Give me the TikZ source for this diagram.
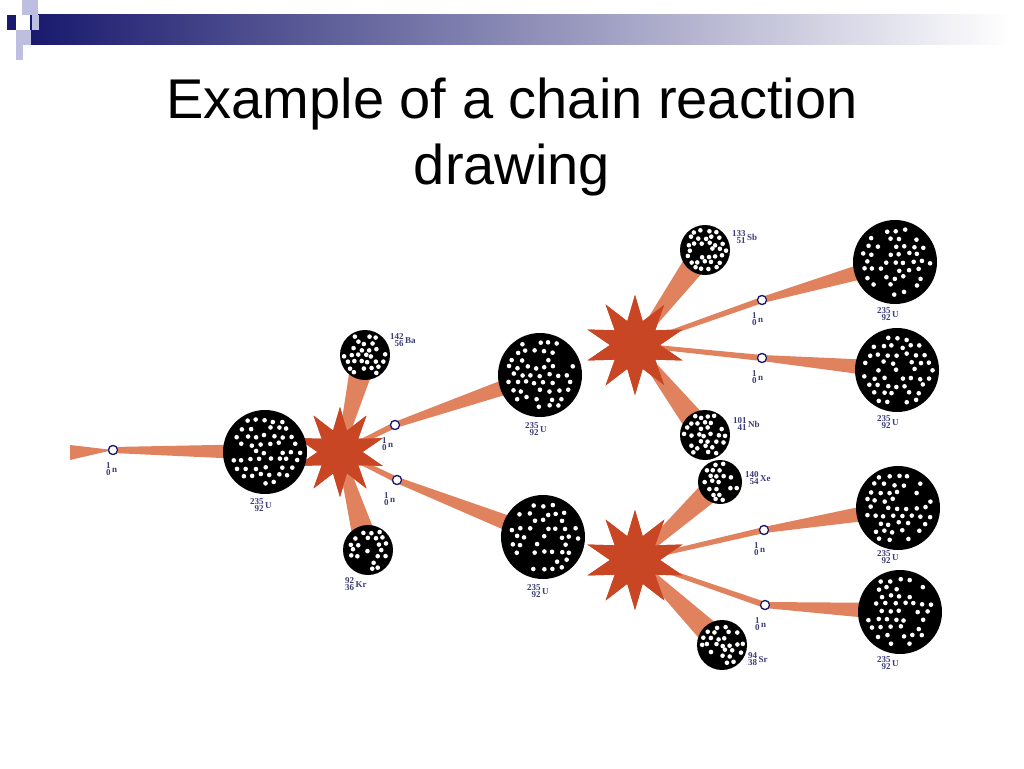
\documentclass[tikz,border=0pt]{standalone}
\usepackage{fontspec}
\setmainfont{Liberation Sans}
\newfontfamily\serifl{Liberation Serif}
\usetikzlibrary{shapes.geometric,calc}
\definecolor{navy}{RGB}{25,25,110}
\definecolor{lav}{RGB}{190,190,225}
\definecolor{beam}{RGB}{225,130,95}
\definecolor{boom}{RGB}{200,70,35}
\definecolor{lbl}{RGB}{60,60,120}
\tikzset{
 neutron/.style={circle,draw=navy,fill=white,line width=1.2pt,minimum size=9pt,inner sep=0},
 boomst/.style={star,star points=10,star point ratio=2.0,fill=boom,inner sep=0},
 iso/.style={font=\serifl\bfseries\fontsize{14}{14}\selectfont,text=lbl,inner sep=0},
 nucl/.style={circle,fill=black,inner sep=0}
}
\newcommand\nuc[3]{%
 \node[nucl,minimum size=#3*2pt] (#1) at (#2) {};
 \pgfmathsetmacro\sp{#3>30?9:7}
 \foreach \ix in {-6,...,6}{\foreach \iy in {-6,...,6}{%
  \pgfmathsetmacro\dx{(\ix+0.5*mod(abs(\iy),2))*\sp+rand*1.5}%
  \pgfmathsetmacro\dy{\iy*\sp*0.87+rand*1.5}%
  \pgfmathsetmacro\ok{(\dx*\dx+\dy*\dy<(0.86*#3)^2)&&(rnd>0.2)?1:0}%
  \ifnum\ok=1 \fill[white] ($(#1)+(\dx,\dy)$) circle (2.3);\fi
 }}}
\newcommand\wed[4]{%
 \fill[beam] ($(#1)!#3!90:(#2)$) -- ($(#1)!#3!-90:(#2)$) -- ($(#2)!#4!90:(#1)$) -- ($(#2)!#4!-90:(#1)$) -- cycle;}
\newcommand\isol[4]{\node[iso,anchor=west] at (#1) {\fontsize{9}{9}\selectfont\begin{tabular}{@{}r@{}}#2\\[-2pt]#3\end{tabular}\,#4};}
\begin{document}
\begin{tikzpicture}[x=1pt,y=-1pt]
\pgfmathsetseed{7}
\useasboundingbox (0,0) rectangle (1024,768);
\fill[white] (0,0) rectangle (1024,768);
\shade[left color=navy,right color=white] (30,15) rectangle (1010,45);
\fill[lav] (22,0) rectangle (38,15);
\fill[lav] (32,15) rectangle (39,30);
\fill[navy] (7,15) rectangle (16,30);
\fill[lav] (16,30) rectangle (31,45);
\fill[lav] (16,45) rectangle (23,60);
\node[font=\fontsize{56}{66}\selectfont,align=center] (title) at (512,137) {Example of a chain reaction\\drawing};
\node[neutron] (n0) at (113,450) {};
\node[boomst,minimum size=90pt] (s1) at (340,452) {};
\node[boomst,minimum size=100pt] (s2) at (635,345) {};
\node[boomst,minimum size=100pt] (s3) at (635,560) {};
\node[neutron] (n1) at (395,425) {};
\node[neutron] (n2) at (397,480) {};
\node[neutron] (n3) at (762,300) {};
\node[neutron] (n4) at (762,358) {};
\node[neutron] (n5) at (764,530) {};
\node[neutron] (n6) at (765,605) {};
\coordinate (u1) at (265,452);
\coordinate (u2) at (540,375);
\coordinate (u3) at (543,537);
\coordinate (ba) at (365,355);
\coordinate (kr) at (368,550);
\coordinate (sb) at (705,250);
\coordinate (nb) at (705,435);
\coordinate (xe) at (720,482);
\coordinate (sr) at (722,645);
\coordinate (u4) at (895,262);
\coordinate (u5) at (897,370);
\coordinate (u6) at (898,508);
\coordinate (u7) at (900,612);
\fill[beam] (70,445) -- (70,460) -- (n0.center) -- cycle;
\wed{n0}{u1}{3pt}{8pt}
\wed{s1}{ba}{3pt}{13pt}
\wed{s1}{kr}{3pt}{13pt}
\wed{n1}{u2}{3pt}{9pt}
\wed{n2}{u3}{3pt}{9pt}
\wed{s2}{sb}{3pt}{13pt}
\wed{s2}{nb}{3pt}{13pt}
\wed{s3}{xe}{3pt}{12pt}
\wed{s3}{sr}{3pt}{13pt}
\wed{n3}{u4}{3pt}{9pt}
\wed{n4}{u5}{3pt}{9pt}
\wed{n5}{u6}{3pt}{9pt}
\wed{n6}{u7}{3pt}{9pt}
\wed{s2}{n3}{2pt}{3pt}
\wed{s2}{n4}{2pt}{3pt}
\wed{s3}{n5}{2pt}{3pt}
\wed{s3}{n6}{2pt}{3pt}
\wed{s1}{n1}{2pt}{3pt}
\wed{s1}{n2}{2pt}{3pt}
\node[boomst,minimum size=90pt] at (s1) {};
\node[boomst,minimum size=100pt] at (s2) {};
\node[boomst,minimum size=100pt] at (s3) {};
\foreach \n in {n0,n1,n2,n3,n4,n5,n6}{\node[neutron] at (\n) {};}
\nuc{U1}{u1}{42}
\nuc{U2}{u2}{42}
\nuc{U3}{u3}{42}
\nuc{U4}{u4}{42}
\nuc{U5}{u5}{42}
\nuc{U6}{u6}{42}
\nuc{U7}{u7}{42}
\nuc{BA}{ba}{25}
\nuc{KR}{kr}{25}
\nuc{SB}{sb}{25}
\nuc{NB}{nb}{25}
\nuc{XE}{xe}{22}
\nuc{SR}{sr}{25}
\isol{106,470}{1}{0}{n}
\isol{382,445}{1}{0}{n}
\isol{384,500}{1}{0}{n}
\isol{752,320}{1}{0}{n}
\isol{752,378}{1}{0}{n}
\isol{754,550}{1}{0}{n}
\isol{755,625}{1}{0}{n}
\isol{250,506}{235}{92}{U}
\isol{525,430}{235}{92}{U}
\isol{527,592}{235}{92}{U}
\isol{877,315}{235}{92}{U}
\isol{877,423}{235}{92}{U}
\isol{877,558}{235}{92}{U}
\isol{877,664}{235}{92}{U}
\isol{390,341}{142}{56}{Ba}
\isol{345,585}{92}{36}{Kr}
\isol{732,238}{133}{51}{Sb}
\isol{733,425}{101}{41}{Nb}
\isol{745,479}{140}{54}{Xe}
\isol{748,660}{94}{38}{Sr}
\end{tikzpicture}
\end{document}
